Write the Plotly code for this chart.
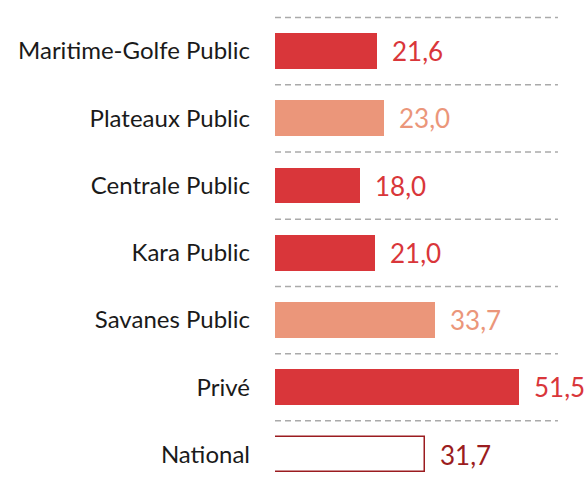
import plotly.graph_objects as go

categories = ["Maritime-Golfe Public", "Plateaux Public", "Centrale Public", "Kara Public",
              "Savanes Public", "Privé", "National"]
values = [21.6, 23.0, 18.0, 21.0, 33.7, 51.5, 31.7]
value_labels = ["21,6", "23,0", "18,0", "21,0", "33,7", "51,5", "31,7"]
fill_colors = ["#d9363a", "#eb967a", "#d9363a", "#d9363a", "#eb967a", "#d9363a", "#ffffff"]
line_colors = ["#d9363a", "#eb967a", "#d9363a", "#d9363a", "#eb967a", "#d9363a", "#9b1c20"]
text_colors = ["#d9363a", "#eb967a", "#d9363a", "#d9363a", "#eb967a", "#d9363a", "#9b1c20"]

FONT = "Lato, 'Open Sans', sans-serif"

fig = go.Figure()
fig.add_trace(go.Bar(
    x=values, y=categories, orientation="h",
    marker=dict(color=fill_colors, line=dict(color=line_colors, width=[0]*6 + [1.5])),
    width=0.535, hoverinfo="skip",
))

for c, v, t, col in zip(categories, values, value_labels, text_colors):
    fig.add_annotation(x=v, y=c, text=t, showarrow=False, xanchor="left", yanchor="middle",
                       xshift=13, font=dict(family=FONT, size=26, color=col))

# dashed separators above each row
for i in range(len(categories)):
    fig.add_shape(type="line", xref="paper", yref="y", x0=0, x1=0.904, y0=i - 0.5, y1=i - 0.5,
                  line=dict(color="#aaaaaa", width=1.5, dash="6px,4px"), layer="below")

fig.update_layout(
    width=588, height=483,
    margin=dict(l=275, r=0, t=10, b=0, autoexpand=False),
    paper_bgcolor="white", plot_bgcolor="white",
    showlegend=False,
    bargap=0,
    font=dict(family=FONT, size=24, color="#1a1a1a"),
)
fig.update_xaxes(range=[0, 66.06], visible=False, automargin=False)
fig.update_yaxes(type="category", categoryorder="array", categoryarray=categories,
                 range=[6.4238, -0.6097], showgrid=False, showline=False, zeroline=False,
                 ticks="", ticklabelstandoff=24, automargin=False,
                 tickfont=dict(family=FONT, size=24, color="#1a1a1a"))

fig.write_html("out.html", config={"displayModeBar": False},
               post_script="document.body.style.margin='0';document.body.style.overflow='hidden';")
